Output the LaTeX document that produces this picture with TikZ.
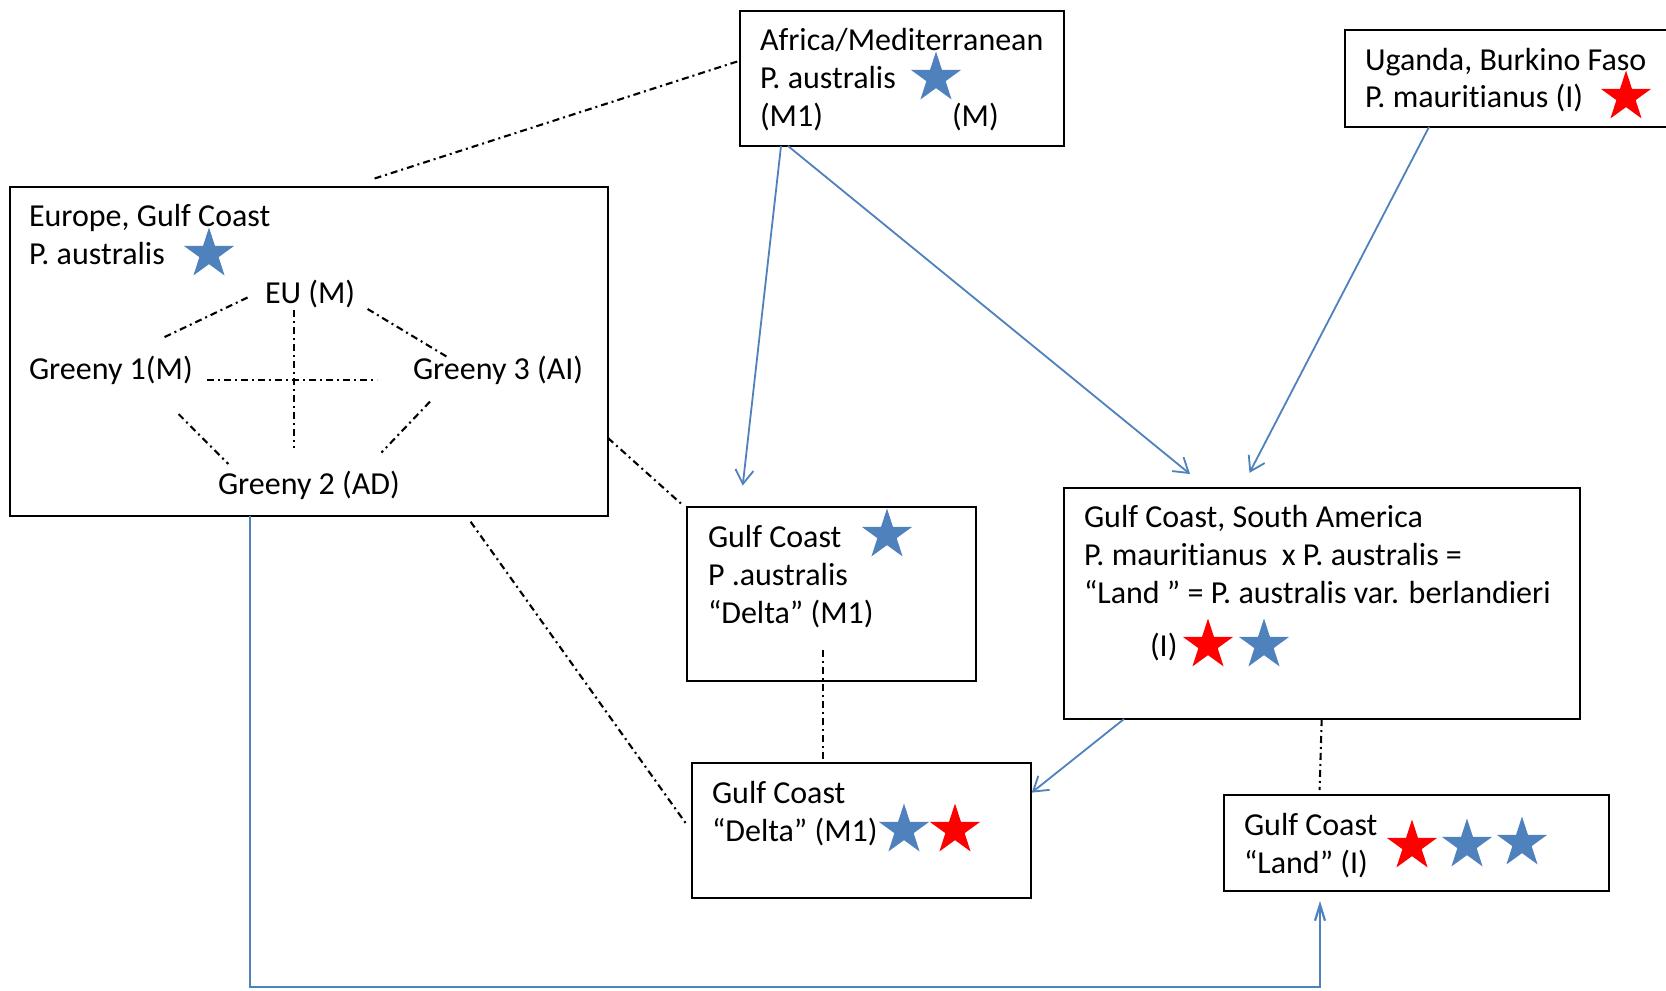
\documentclass[tikz,border=0pt]{standalone}
\usepackage{fontspec}
\setmainfont{Carlito}[Ligatures=NoCommon]
\usetikzlibrary{arrows.meta,shapes.geometric,fit,calc}
\definecolor{obl}{HTML}{4F81BD}
\definecolor{ored}{HTML}{FF0000}
\tikzset{
 box/.style={draw=black, line width=1.1pt, inner sep=0pt, outer sep=0pt, fit=#1},
 lbl/.style={anchor=base west, inner sep=0pt, outer sep=0pt, font=\fontsize{16}{19}\selectfont},
 bstar/.style={star, star points=5, star point ratio=2.618, minimum size=26.5pt, inner sep=0pt, outer sep=0pt, fill=obl},
 rstar/.style={bstar, fill=ored},
 arr/.style={draw=obl, line width=0.9pt, -{Straight Barb[length=7pt,width=9pt]}},
 arrb/.style={draw=obl, line width=1.1pt, -{Straight Barb[length=8pt,width=5pt]}},
 dd/.style={draw=black, line width=1.05pt, dash pattern=on 3.5pt off 2pt on 1pt off 2pt},
}
\begin{document}
\begin{tikzpicture}[x=0.5pt,y=-0.5pt]
\fill[white] (0,0) rectangle (1666,991);
\clip (0,0) rectangle (1666,991);
% box corners
\coordinate (af1) at (740,11);   \coordinate (af2) at (1064,146);
\coordinate (ug1) at (1345,30);  \coordinate (ug2) at (1700,127);
\coordinate (eu1) at (9.6,187);  \coordinate (eu2) at (608,516);
\coordinate (gc1) at (687,507);  \coordinate (gc2) at (976,681);
\coordinate (sa1) at (1064,488); \coordinate (sa2) at (1580,719);
\coordinate (de1) at (692,763);  \coordinate (de2) at (1031,898);
\coordinate (la1) at (1224,795); \coordinate (la2) at (1609,891);
\node[box={(af1)(af2)}] (africa) {};
\node[box={(ug1)(ug2)}] (uganda) {};
\node[box={(eu1)(eu2)}] (europe) {};
\node[box={(gc1)(gc2)}] (gcp) {};
\node[box={(sa1)(sa2)}] (sa) {};
\node[box={(de1)(de2)}] (delta) {};
\node[box={(la1)(la2)}] (land) {};
% Africa
\node[lbl] (af-t1) at (760,50) {Africa/Mediterranean};
\node[lbl] (af-t2) at (760,88) {P. australis};
\node[lbl] (af-t3) at (760,126) {(M1)};
\node[lbl] (af-t4) at (952,126) {(M)};
\node[bstar] (af-s) at (936,78) {};
% Uganda
\node[lbl] (ug-t1) at (1365,70) {Uganda, Burkino Faso};
\node[lbl] (ug-t2) at (1365,107) {P. mauritianus (I)};
\node[rstar] (ug-s) at (1626,97) {};
% Europe
\node[lbl] (eu-t1) at (29,226) {Europe, Gulf Coast};
\node[lbl] (eu-t2) at (29,264) {P. australis};
\node[bstar] (eu-s) at (209,254) {};
\node[lbl] (eum) at (265,303) {EU (M)};
\node[lbl] (g1) at (29,379) {Greeny 1(M)};
\node[lbl] (g3) at (413,379) {Greeny 3 (AI)};
\node[lbl] (g2) at (218,494) {Greeny 2 (AD)};
\coordinate (l1a) at (247.6,297.5); \coordinate (l1b) at (162.6,338);
\coordinate (l2a) at (367.6,309);   \coordinate (l2b) at (447.3,357);
\coordinate (l3a) at (207,380);     \coordinate (l3b) at (377,380);
\coordinate (l4a) at (294,310);     \coordinate (l4b) at (294,448);
\coordinate (l5a) at (178.5,414);   \coordinate (l5b) at (228.4,464);
\coordinate (l6a) at (430,401.6);   \coordinate (l6b) at (381.4,452.6);
\draw[dd] (l1a) -- (l1b);
\draw[dd] (l2a) -- (l2b);
\draw[dd] (l3a) -- (l3b);
\draw[dd] (l4a) -- (l4b);
\draw[dd] (l5a) -- (l5b);
\draw[dd] (l6a) -- (l6b);
% Gulf coast P. australis
\node[lbl] (gc-t1) at (708,547) {Gulf Coast};
\node[lbl] (gc-t2) at (708,585) {P .australis};
\node[lbl] (gc-t3) at (708,623) {“Delta” (M1)};
\node[bstar] (gc-s) at (887,535) {};
% South America
\node[lbl] (sa-t1) at (1084,527) {Gulf Coast, South America};
\node[lbl] (sa-t2) at (1084,565) {P. mauritianus \ x P. australis =};
\node[lbl] (sa-t3) at (1084,603) {“Land ” = P. australis var. berlandieri};
\node[lbl] (sa-t4) at (1150,656) {(I)};
\node[rstar] (sa-s1) at (1208,645) {};
\node[bstar] (sa-s2) at (1264,645) {};
% Delta
\node[lbl] (de-t1) at (712,803) {Gulf Coast};
\node[lbl] (de-t2) at (712,841) {“Delta” (M1)};
\node[bstar] (de-s1) at (904,830) {};
\node[rstar] (de-s2) at (955,830) {};
% Land
\node[lbl] (la-t1) at (1244,835) {Gulf Coast};
\node[lbl] (la-t2) at (1244,873) {“Land” (I)};
\node[rstar] (la-s1) at (1412,846) {};
\node[bstar] (la-s2) at (1467,845) {};
\node[bstar] (la-s3) at (1522,843) {};
% dash-dot connectors
\draw[dd] ($(europe.north west)+(365,-8.5)$) -- ($(africa.north west)+(0,49.6)$);
\draw[dd] ($(europe.north east)+(0,251)$) -- ($(gcp.north west)+(-6,-3.4)$);
\draw[dd] ($(europe.south west)+(461,5.7)$) -- ($(delta.north west)+(-5,62)$);
\coordinate (gcdown) at ($(gcp.north west)+(136.4,143)$);
\draw[dd] (gcdown) -- (gcdown |- delta.north);
\draw[dd] ($(sa.south west)+(257.7,0)$) -- ($(land.north west)+(95.6,-5)$);
% blue arrows
\draw[arr] ($(africa.south west)+(41,0)$) -- ($(gcp.north west)+(55.7,-21.4)$);
\draw[arr] ($(africa.south west)+(48,0)$) -- ($(sa.north west)+(126,-14)$);
\draw[arr] ($(uganda.south west)+(84,0)$) -- ($(sa.north west)+(185.5,-15.2)$);
\draw[arr] ($(sa.south west)+(60,0)$) -- ($(delta.north east)+(0.7,29.6)$);
\coordinate (eu-out) at ($(europe.south west)+(240,0)$);
\coordinate (la-in) at ($(land.south west)+(96,10)$);
\draw[arrb] (eu-out) |- ($(la-in)+(0,86)$) -- (la-in);
\end{tikzpicture}
\end{document}
